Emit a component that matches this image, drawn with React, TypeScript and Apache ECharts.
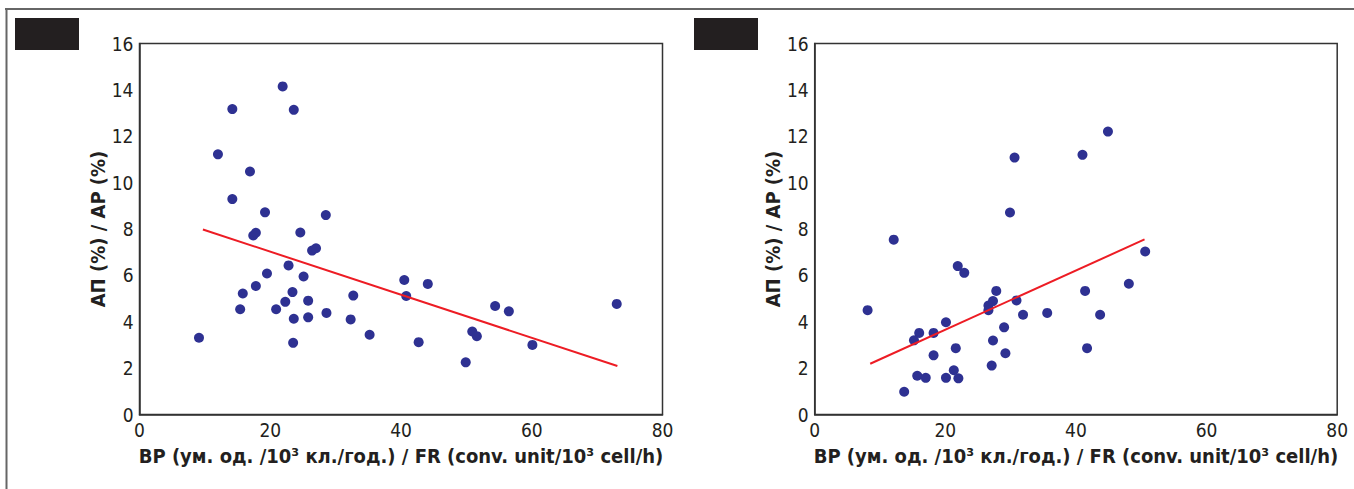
import React, { useEffect, useRef } from "react";
import * as echarts from "echarts";

const leftX = [21.9, 14.2, 23.6, 12.0, 16.9, 14.2, 19.2, 28.5, 9.1, 17.4, 17.8, 24.6, 26.4, 27.0, 22.8, 19.5, 25.1, 17.8, 15.8, 23.4, 22.3, 25.8, 32.7, 15.4, 20.9, 28.6, 23.6, 25.8, 32.3, 35.2, 23.5, 40.5, 44.1, 40.8, 54.4, 56.5, 73.0, 50.9, 51.6, 42.7, 60.1, 49.9];
const leftY = [14.15, 13.17, 13.14, 11.22, 10.48, 9.29, 8.72, 8.6, 3.31, 7.72, 7.84, 7.85, 7.07, 7.17, 6.43, 6.08, 5.95, 5.54, 5.22, 5.28, 4.86, 4.91, 5.13, 4.54, 4.54, 4.38, 4.13, 4.19, 4.1, 3.44, 3.09, 5.8, 5.63, 5.11, 4.68, 4.45, 4.77, 3.58, 3.38, 3.12, 3.0, 2.25];
const leftTrendX = [9.7, 73.1];
const leftTrendY = [7.98, 2.09];

const rightX = [30.6, 29.9, 12.1, 21.9, 22.9, 27.8, 8.1, 26.6, 27.3, 26.6, 30.9, 31.9, 35.6, 20.1, 16.0, 18.2, 15.2, 29.0, 27.3, 21.6, 18.2, 29.2, 27.1, 21.3, 15.7, 17.0, 20.1, 22.0, 13.7, 44.9, 41.0, 50.6, 41.4, 48.1, 43.7, 41.7];
const rightY = [11.08, 8.71, 7.54, 6.4, 6.11, 5.33, 4.5, 4.7, 4.89, 4.5, 4.92, 4.3, 4.38, 3.98, 3.52, 3.52, 3.2, 3.76, 3.19, 2.86, 2.55, 2.64, 2.11, 1.91, 1.67, 1.58, 1.58, 1.56, 0.98, 12.2, 11.2, 7.03, 5.33, 5.64, 4.3, 2.86];
const rightTrendX = [8.5, 50.5];
const rightTrendY = [2.19, 7.55];

const xTicks = [0, 20, 40, 60, 80];
const yTicks = [0, 2, 4, 6, 8, 10, 12, 14, 16];

const xTitle = "ВР (ум. од. /10³ кл./год.) / FR (conv. unit/10³ cell/h)";
const yTitle = "АП (%) / AP (%)";

const FONT = "'Liberation Sans Narrow', 'DejaVu Sans Condensed', 'Arial Narrow', sans-serif";
const INK = "#231f20";
const DOT = "#2e3192";
const RED = "#ed1c24";

export default function App() {
  const ref = useRef<HTMLDivElement>(null);
  useEffect(() => {
    if (!ref.current) return;
    const chart = echarts.init(ref.current, undefined, { renderer: "svg" });
    const grids = [
      { left: 139.5, top: 43.5, width: 523, height: 371 },
      { left: 814.7, top: 43.5, width: 522.5, height: 371 },
    ];
    const xAxisBase = (i: number) => ({
      type: "value",
      gridIndex: i,
      min: xTicks[0],
      max: xTicks[xTicks.length - 1],
      interval: 20,
      splitLine: { show: false },
      axisTick: { show: false },
      axisLine: { show: true, lineStyle: { color: "#333", width: 1.5 } },
      axisLabel: { color: INK, fontFamily: FONT, fontSize: 19, margin: 6 },
      name: xTitle,
      nameLocation: "middle",
      nameGap: 31,
      nameTextStyle: { color: INK, fontFamily: FONT, fontSize: 20, fontWeight: "bold" },
    });
    const yAxisBase = (i: number) => ({
      type: "value",
      gridIndex: i,
      min: yTicks[0],
      max: yTicks[yTicks.length - 1],
      interval: 2,
      splitLine: { show: false },
      axisTick: { show: false },
      axisLine: { show: true, lineStyle: { color: "#333", width: 1.5 } },
      axisLabel: { color: INK, fontFamily: FONT, fontSize: 19, margin: 6 },
      name: yTitle,
      nameLocation: "middle",
      nameGap: 30,
      nameTextStyle: { color: INK, fontFamily: FONT, fontSize: 20, fontWeight: "bold" },
    });
    const scatter = (i: number, xs: number[], ys: number[]) => ({
      type: "scatter",
      xAxisIndex: i,
      yAxisIndex: i,
      symbolSize: 10,
      itemStyle: { color: DOT, opacity: 1 },
      data: xs.map((x, k) => [x, ys[k]]),
    });
    const trend = (i: number, xs: number[], ys: number[]) => ({
      type: "line",
      xAxisIndex: i,
      yAxisIndex: i,
      symbol: "none",
      lineStyle: { color: RED, width: 2 },
      data: xs.map((x, k) => [x, ys[k]]),
      z: 3,
    });
    chart.setOption({
      animation: false,
      backgroundColor: "#fff",
      grid: grids.map((g) => ({ ...g, show: true, borderColor: "#333", borderWidth: 1.5, backgroundColor: "transparent" })),
      xAxis: [xAxisBase(0), xAxisBase(1)],
      yAxis: [yAxisBase(0), yAxisBase(1)],
      series: [
        trend(0, leftTrendX, leftTrendY),
        scatter(0, leftX, leftY),
        trend(1, rightTrendX, rightTrendY),
        scatter(1, rightX, rightY),
      ],
      graphic: [
        { type: "line", shape: { x1: 5, y1: 9, x2: 1354, y2: 9 }, style: { stroke: "#666", lineWidth: 2 } },
        { type: "line", shape: { x1: 6.5, y1: 8, x2: 6.5, y2: 489 }, style: { stroke: "#666", lineWidth: 2 } },
        { type: "rect", shape: { x: 15, y: 18, width: 64, height: 32 }, style: { fill: INK } },
        { type: "rect", shape: { x: 694, y: 18, width: 64, height: 32 }, style: { fill: INK } },
      ],
    });
    return () => chart.dispose();
  }, []);
  return <div ref={ref} style={{ position: "fixed", left: 0, top: 0, width: 1354, height: 489 }} />;
}
